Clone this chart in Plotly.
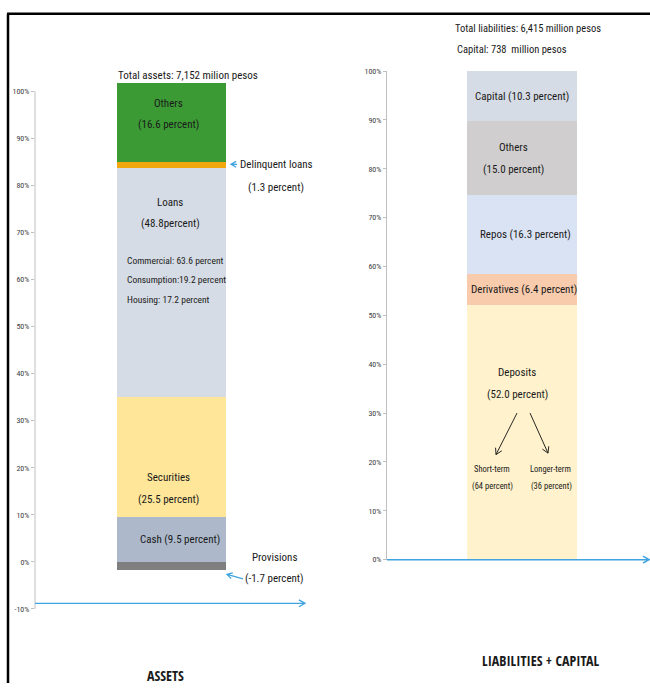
import math
import plotly.graph_objects as go

W, H = 650, 688

# ---- data ---------------------------------------------------------------
asset_names = ["Cash", "Securities", "Loans", "Delinquent loans", "Others", "Provisions"]
asset_values = [9.5, 25.5, 48.8, 1.3, 16.6, -1.7]
asset_colors = ["#adb9ca", "#ffe699", "#d6dce5", "#f2a80c", "#3c9a35", "#7f7f7f"]

liab_names = ["Deposits", "Derivatives", "Repos", "Others", "Capital"]
liab_values = [52.0, 6.4, 16.3, 15.0, 10.3]
liab_colors = ["#fff2cc", "#f8cbad", "#dae3f3", "#d0cece", "#d6dce5"]

loan_types = ["Commercial: ", "Consumption:", "Housing: "]
loan_shares = [63.6, 19.2, 17.2]

deposit_types = ["Short-term", "Longer-term"]
deposit_shares = [64, 36]

total_assets = "7,152"
total_liabilities = "6,415"
total_capital = "738"

left_ticks = list(range(-10, 101, 10))
right_ticks = list(range(0, 101, 10))

# ---- layout geometry (pixels) --------------------------------------------
FONT = "Roboto Condensed, DejaVu Sans Condensed, sans-serif"
BOLD = "Open Sans Condensed, Roboto Condensed, sans-serif"
TXT = "#1a1a1a"
BLUE = "#3fa4e0"

# left panel: axis at x=35, bar centred at 171.5 with 109 px width
LX0, LX1, LBC, LBW = 35, 305, 171.5, 109
L_YBOT, L_PPU = 613, 4.77           # pixel of -10 %, pixels per percent
L_YR = (-10, 102)
# right panel
RX0, RX1, RBC, RBW = 387, 650, 522, 110
R_YBOT, R_PPU = 563, 4.95
R_YR = (0, 100)


def px(x):
    return x / W


def py(y):
    return 1 - y / H


def ly(v):
    return L_YBOT - (v - L_YR[0]) * L_PPU


def ry(v):
    return R_YBOT - (v - R_YR[0]) * R_PPU


def lxv(p):
    return (p - LBC) / LBW


def rxv(p):
    return (p - RBC) / RBW


fig = go.Figure()

for name, val, col in zip(asset_names, asset_values, asset_colors):
    fig.add_trace(go.Bar(x=[0], y=[val], name=name, marker=dict(color=col, line=dict(width=0)),
                         width=1, xaxis="x", yaxis="y", hoverinfo="name+y"))
for name, val, col in zip(liab_names, liab_values, liab_colors):
    fig.add_trace(go.Bar(x=[0], y=[val], name=name, marker=dict(color=col, line=dict(width=0)),
                         width=1, xaxis="x2", yaxis="y2", hoverinfo="name+y"))

annotations = []
shapes = []


def label(x, y, lines, size=11, xref="x", yref="y", spacing=21, align="center", xanchor="center"):
    n = len(lines)
    for i, t in enumerate(lines):
        shift = ((n - 1) / 2 - i) * spacing
        annotations.append(dict(x=x, y=y, xref=xref, yref=yref, text=t, showarrow=False,
                                yshift=shift, xanchor=xanchor, yanchor="middle", align=align,
                                font=dict(family=FONT, size=size, color=TXT)))


def arrow(x0, y0, x1, y1, color, width=1.2, head=6):
    """Straight line from (x0,y0) to (x1,y1) in pixels, open chevron at the end."""
    ang = math.atan2(y1 - y0, x1 - x0)
    pts = []
    for d in (math.radians(150), -math.radians(150)):
        pts.append((x1 + head * math.cos(ang + d), y1 + head * math.sin(ang + d)))
    path = (f"M {px(x0)},{py(y0)} L {px(x1)},{py(y1)} "
            f"M {px(pts[0][0])},{py(pts[0][1])} L {px(x1)},{py(y1)} L {px(pts[1][0])},{py(pts[1][1])}")
    shapes.append(dict(type="path", xref="paper", yref="paper", path=path,
                       line=dict(color=color, width=width)))


# segment extents of the asset stack (negative provisions hang below zero)
a_base = {}
acc = 0.0
for n, v in zip(asset_names, asset_values):
    if v >= 0:
        a_base[n] = (acc, acc + v)
        acc += v
    else:
        a_base[n] = (v, 0.0)

l_base = {}
acc = 0.0
for n, v in zip(liab_names, liab_values):
    l_base[n] = (acc, acc + v)
    acc += v


def frac(base, f):
    lo, hi = base
    return lo + f * (hi - lo)


pct = dict(zip(asset_names, asset_values))
lpct = dict(zip(liab_names, liab_values))

# ---- asset labels ---------------------------------------------------------
label(lxv(168), frac(a_base["Others"], 0.6), ["Others", f"({pct['Others']} percent)"])
label(lxv(170), frac(a_base["Loans"], 0.8), ["Loans", f"({pct['Loans']}percent)"])
label(lxv(125), frac(a_base["Loans"], 0.51),
      [f"{t}{s} percent" for t, s in zip(loan_types, loan_shares)],
      size=9.5, spacing=19.5, xanchor="left", align="left")
label(lxv(168), frac(a_base["Securities"], 0.24), ["Securities", f"({pct['Securities']} percent)"], spacing=22)
label(lxv(180), frac(a_base["Cash"], 0.5), [f"Cash ({pct['Cash']} percent)"])

# delinquent loans: arrow pointing at the thin strip
bar_right = LBC + LBW / 2
dl_y = ly(frac(a_base["Delinquent loans"], 0.5))
arrow(bar_right + 11, dl_y, bar_right + 5, dl_y, BLUE, width=1.3, head=6)
label(px(276), py(dl_y + 11.5), ["Delinquent loans", f"({pct['Delinquent loans']} percent)"],
      xref="paper", yref="paper", spacing=23)

# provisions
prov_bot = ly(a_base["Provisions"][0])
arrow(243, prov_bot + 9, bar_right + 1, prov_bot + 4.5, BLUE, width=1.3, head=6)
label(px(274), py(prov_bot - 1.5), ["Provisions", f"({pct['Provisions']} percent)"],
      xref="paper", yref="paper", spacing=21)

# ---- liabilities labels ----------------------------------------------------
R = dict(xref="x2", yref="y2")
label(rxv(522), frac(l_base["Capital"], 0.5), [f"Capital ({lpct['Capital']} percent)"], **R)
label(rxv(513), frac(l_base["Others"], 0.5), ["Others", f"({lpct['Others']} percent)"], spacing=22, **R)
label(rxv(525), frac(l_base["Repos"], 0.5), [f"Repos ({lpct['Repos']} percent)"], **R)
label(rxv(524), frac(l_base["Derivatives"], 0.5), [f"Derivatives ({lpct['Derivatives']} percent)"], **R)
label(rxv(517), 36, ["Deposits", f"({lpct['Deposits']} percent)"], spacing=22, **R)
label(rxv(492), 16.8, [deposit_types[0], f"({deposit_shares[0]} percent)"], size=8.5, spacing=18, **R)
label(rxv(550), 16.8, [deposit_types[1], f" ({deposit_shares[1]} percent)"], size=8.5, spacing=18, **R)
arrow(517, ry(30), 496, ry(21.5), "#262626", width=1, head=7)
arrow(530, ry(30), 548, ry(21.8), "#262626", width=1, head=7)

# ---- titles -----------------------------------------------------------------
def head_text(x, y, text, size=11, family=FONT, xanchor="left"):
    annotations.append(dict(x=px(x), y=py(y), xref="paper", yref="paper", showarrow=False,
                            xanchor=xanchor, yanchor="middle", text=text,
                            font=dict(family=family, size=size, color=TXT)))


head_text(116, 72, f"Total assets: {total_assets} milion pesos")
head_text(453, 25, f"Total liabilities: {total_liabilities} million pesos", size=10.5)
head_text(455, 46, f"Capital: {total_capital}  million pesos", size=10.5)
head_text(165, 680, "<b>ASSETS</b>", size=14, family=BOLD, xanchor="center")
head_text(541, 665, "<b>LIABILITIES + CAPITAL</b>", size=14, family=BOLD, xanchor="center")

# ---- axis lines, baseline arrows, frame ---------------------------------------
shapes.append(dict(type="line", xref="paper", yref="y", x0=px(LX0), x1=px(LX0), y0=-10, y1=100,
                   line=dict(color="#bfbfbf", width=1)))
arrow(LX0, ly(-8.8), LX1, ly(-8.8), BLUE, width=1.3, head=7)
arrow(RX0, ry(0), RX1 - 1, ry(0), BLUE, width=1.5, head=7)
shapes.append(dict(type="line", xref="paper", yref="paper", x0=px(8), x1=px(8), y0=py(10), y1=0,
                   line=dict(color="black", width=2.5)))
shapes.append(dict(type="line", xref="paper", yref="paper", x0=px(7), x1=1, y0=py(10), y1=py(10),
                   line=dict(color="black", width=2.5)))

tickfont = dict(family=FONT, size=8, color="#404040")

fig.update_layout(
    width=W, height=H, margin=dict(l=0, r=0, t=0, b=0),
    paper_bgcolor="white", plot_bgcolor="rgba(0,0,0,0)",
    barmode="relative", bargap=0, showlegend=False,
    xaxis=dict(domain=[px(LX0), px(LX1)],
               range=[(LX0 - LBC) / LBW, (LX1 - LBC) / LBW],
               visible=False, fixedrange=True),
    yaxis=dict(domain=[py(L_YBOT), py(L_YBOT - (L_YR[1] - L_YR[0]) * L_PPU)],
               range=list(L_YR), anchor="x",
               tickvals=left_ticks, ticktext=[f"{v}%" for v in left_ticks],
               ticks="outside", ticklen=3, tickcolor="#bfbfbf", tickfont=tickfont,
               showgrid=False, zeroline=False, showline=False),
    xaxis2=dict(domain=[px(RX0), px(RX1)],
                range=[(RX0 - RBC) / RBW, (RX1 - RBC) / RBW],
                visible=False, fixedrange=True, anchor="y2"),
    yaxis2=dict(domain=[py(R_YBOT), py(R_YBOT - (R_YR[1] - R_YR[0]) * R_PPU)],
                range=list(R_YR), anchor="x2",
                tickvals=right_ticks, ticktext=[f"{v}%" for v in right_ticks],
                ticks="outside", ticklen=3, tickcolor="#bfbfbf", tickfont=tickfont,
                showgrid=False, zeroline=False, showline=True, linecolor="#bfbfbf", linewidth=1),
    annotations=annotations,
    shapes=shapes,
)

fig.write_html("out.html")
